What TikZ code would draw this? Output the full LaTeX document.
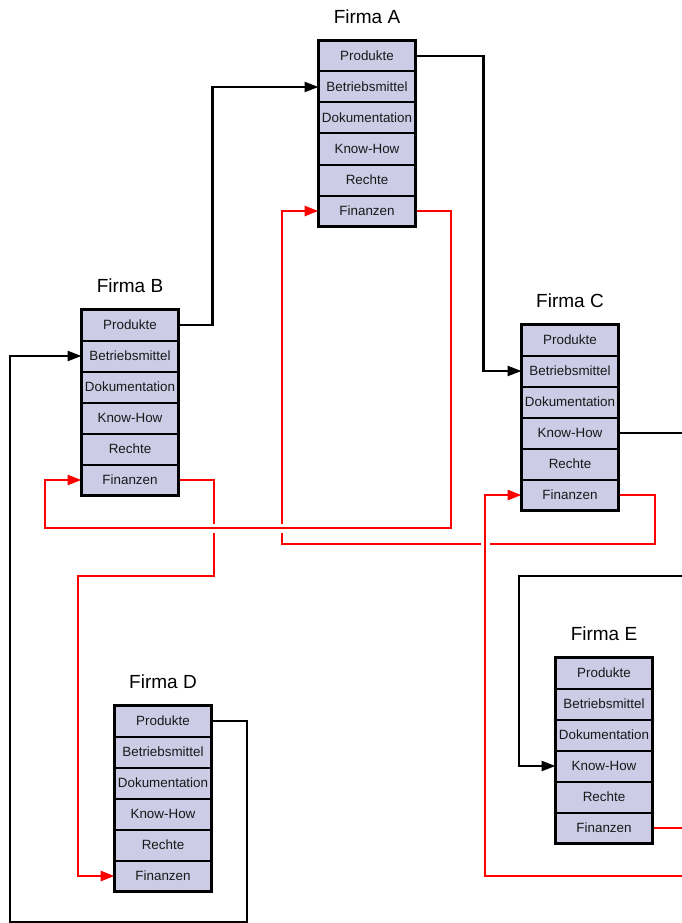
\documentclass[tikz,border=0pt]{standalone}
\usepackage{fontspec}
\setmainfont{Liberation Sans}
\usetikzlibrary{arrows.meta,fit}
\definecolor{boxfill}{RGB}{204,204,230}
\definecolor{lred}{RGB}{255,0,0}
\definecolor{txt}{RGB}{25,25,25}
\tikzset{
  row/.style={draw=black, line width=2pt, fill=boxfill, minimum width=97pt,
    minimum height=31pt, inner sep=0pt, outer sep=0pt, anchor=north west, text=txt,
    font=\fontsize{13.4}{14}\selectfont},
  outerbox/.style={draw=black, line width=3.5pt, inner sep=0pt},
  firmtitle/.style={font=\fontsize{19}{22}\selectfont},
  blkline/.style={draw=black, line width=2.4pt},
  blkarrow/.style={blkline, -{Triangle[length=14pt,width=10pt]}},
  redline/.style={draw=lred, line width=2.8pt},
  redarrow/.style={redline, -{Triangle[length=14pt,width=10pt]}},
  gapper/.style={preaction={draw=white, line width=9pt, -}}
}
\newcommand\firma[4]{%
  \foreach \t [count=\i] in {Produkte,Betriebsmittel,Dokumentation,Know-How,Rechte,Finanzen}
    \node[row] (#1\i) at (#3+1.5, #4+1.5+\i*31-31) {\t};
  \node[outerbox, fit=(#11)(#16)] (#1) {};
  \node[firmtitle] (#1t) at (#3+50, #4-22) {#2};
}
\begin{document}
\begin{tikzpicture}[x=1pt,y=-1pt]
\useasboundingbox[fill=white] (0,0) rectangle (682,923);
\begin{scope}[opacity=0]
\firma{A}{Firma A}{317}{39}
\firma{B}{Firma B}{80}{308}
\firma{C}{Firma C}{520}{323}
\firma{D}{Firma D}{113}{704}
\firma{E}{Firma E}{554}{656}
\end{scope}
\coordinate (eIn) at (682,576);
\coordinate (cFin) at (682,876);
% black connectors
\draw[blkarrow] (B1.east) -- ++(34,0) |- (A2.west);
\draw[blkarrow] (A1.east) -- ++(68,0) |- (C2.west);
\draw[blkarrow] (D1.east) -| (247,922) -- (10,922) |- (B2.west);
\draw[blkline] (C4.east) -- ++(64,0) coordinate (cKout);
\draw[blkarrow] (eIn) -- (519,576) |- (E4.west);
% red connectors
\draw[redarrow] (B6.east) -| (214,576) -- (78,576) |- (D6.west);
\draw[redarrow] (C6.east) -| (655,544) -- (282,544) |- (A6.west);
\draw[redarrow, gapper] (A6.east) -| (451,528) -- (45,528) |- (B6.west);
\draw[redline] (E6.east) -- ++(30,0) coordinate (eFout);
\draw[redarrow, gapper] (cFin) -- (485,876) |- (C6.west);
% firms on top
\firma{A}{Firma A}{317}{39}
\firma{B}{Firma B}{80}{308}
\firma{C}{Firma C}{520}{323}
\firma{D}{Firma D}{113}{704}
\firma{E}{Firma E}{554}{656}
\end{tikzpicture}
\end{document}
